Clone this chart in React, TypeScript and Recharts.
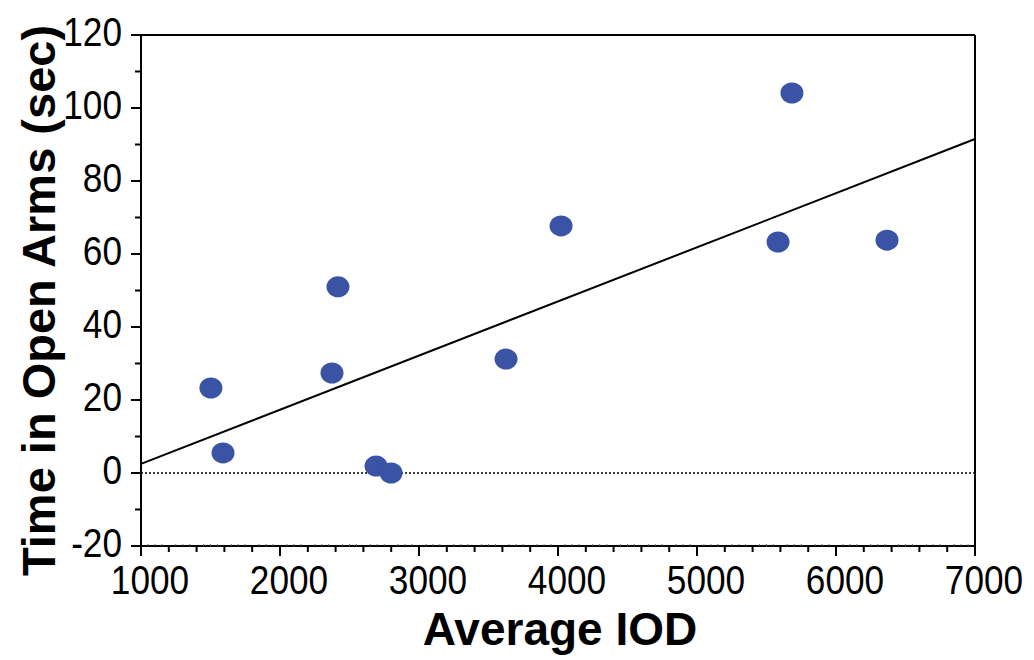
import { ScatterChart, Scatter, XAxis, YAxis, ReferenceLine } from 'recharts';

// measured points
const iodValues = [1503, 1590, 2374, 2417, 2691, 2799, 3626, 4022, 5583, 5683, 6367];
const timeValues = [23.3, 5.5, 27.4, 51, 1.9, 0, 31.2, 67.7, 63.3, 104.1, 63.8];

// regression line end points
const fitX = [1000, 7000];
const fitY = [2.5, 91.5];

const xTickLabels = [1000, 2000, 3000, 4000, 5000, 6000, 7000];
const yTickLabels = [-20, 0, 20, 40, 60, 80, 100, 120];

const points = iodValues.map((x, i) => ({ x, y: timeValues[i] }));

const xMinor: number[] = [];
for (let v = 1000; v <= 7000; v += 50) xMinor.push(v);
const yMinor: number[] = [];
for (let v = -20; v <= 120; v += 10) yMinor.push(v);

const FONT = '"Liberation Sans", Arial, sans-serif';
const DOT = '#3a53a4';

function xLen(v: number) {
  if (v % 1000 === 0) return 10;
  if (v % 200 === 0) return 6;
  return 0;
}

// tick numbers in the original are a condensed sans, so squeeze Liberation Sans a bit
const NumText = ({ x, y, anchor, children }: any) => (
  <text
    transform={`translate(${x},${y}) scale(0.88,1)`}
    textAnchor={anchor}
    dominantBaseline="central"
    fontSize={40}
    fontFamily={FONT}
    fill="#000"
  >
    {children}
  </text>
);

const BottomTick = (p: any) => {
  const { x, y, payload } = p;
  const v = payload.value;
  const len = xLen(v);
  return (
    <g>
      {len ? (
        <line x1={x} x2={x} y1={y} y2={y + len} stroke="#000" strokeWidth={2} />
      ) : (
        <line x1={x} x2={x} y1={y} y2={y - 2} stroke="#666" strokeWidth={1} />
      )}
      {xTickLabels.includes(v) && (
        <NumText x={x + 9} y={y + 34} anchor="middle">
          {v}
        </NumText>
      )}
    </g>
  );
};

const TopTick = (p: any) => {
  const { x, y, payload } = p;
  const len = xLen(payload.value);
  return len ? (
    <line x1={x} x2={x} y1={y} y2={y - len} stroke="#000" strokeWidth={2} />
  ) : (
    <line x1={x} x2={x} y1={y} y2={y + 2} stroke="#666" strokeWidth={1} />
  );
};

const LeftTick = (p: any) => {
  const { x, y, payload } = p;
  const v = payload.value;
  const major = yTickLabels.includes(v);
  return (
    <g>
      <line x1={x} x2={x - (major ? 10 : 6)} y1={y} y2={y} stroke="#000" strokeWidth={2} />
      {major && (
        <NumText x={x - 19} y={y - 3} anchor="end">
          {v}
        </NumText>
      )}
    </g>
  );
};

const RightTick = (p: any) => {
  const { x, y, payload } = p;
  const major = yTickLabels.includes(payload.value);
  return <line x1={x} x2={x + (major ? 10 : 6)} y1={y} y2={y} stroke="#000" strokeWidth={2} />;
};

const Dot = (p: any) => <ellipse cx={p.cx} cy={p.cy} rx={11.5} ry={10.5} fill={DOT} />;

export default function App() {
  return (
    <div style={{ position: 'absolute', left: 0, top: 0, background: '#fff' }}>
      <ScatterChart width={1034} height={660} margin={{ top: 20, right: 39, bottom: 0, left: 0 }}>
        <XAxis
          xAxisId="t"
          orientation="top"
          type="number"
          dataKey="x"
          domain={[1000, 7000]}
          ticks={xMinor}
          interval={0}
          height={15}
          tickSize={0}
          tickMargin={0}
          tickLine={false}
          tick={<TopTick />}
          axisLine={{ stroke: '#000', strokeWidth: 2 }}
        />
        <XAxis
          xAxisId="b"
          orientation="bottom"
          type="number"
          dataKey="x"
          domain={[1000, 7000]}
          ticks={xMinor}
          interval={0}
          height={114}
          tickSize={0}
          tickMargin={0}
          tickLine={false}
          tick={<BottomTick />}
          axisLine={{ stroke: '#000', strokeWidth: 2 }}
          label={{
            content: (props: any) => {
              const vb = props.viewBox;
              return (
                <text x={vb.x + vb.width / 2 + 2} y={vb.y + 99} textAnchor="middle" fontSize={46} fontWeight="bold" fontFamily={FONT} fill="#000">
                  Average IOD
                </text>
              );
            },
          }}
        />
        <YAxis
          yAxisId="l"
          orientation="left"
          type="number"
          dataKey="y"
          domain={[-20, 120]}
          ticks={yMinor}
          interval={0}
          width={141}
          tickSize={0}
          tickMargin={0}
          tickLine={false}
          tick={<LeftTick />}
          axisLine={{ stroke: '#000', strokeWidth: 2 }}
          label={{
            content: (props: any) => {
              const vb = props.viewBox;
              const cx = vb.x + 38;
              const cy = vb.y + vb.height / 2 + 10;
              return (
                <text
                  x={cx}
                  y={cy}
                  transform={`rotate(-90 ${cx} ${cy})`}
                  textAnchor="middle"
                  dominantBaseline="central"
                  fontSize={47}
                  fontWeight="bold"
                  fontFamily={FONT}
                  fill="#000"
                >
                  Time in Open Arms (sec)
                </text>
              );
            },
          }}
        />
        <YAxis
          yAxisId="r"
          orientation="right"
          type="number"
          dataKey="y"
          domain={[-20, 120]}
          ticks={yMinor}
          interval={0}
          width={20}
          tickSize={0}
          tickMargin={0}
          tickLine={false}
          tick={<RightTick />}
          axisLine={{ stroke: '#000', strokeWidth: 2 }}
        />
        <ReferenceLine xAxisId="b" yAxisId="l" y={0} stroke="#000" strokeWidth={1.5} strokeDasharray="2 2" />
        <ReferenceLine
          xAxisId="b"
          yAxisId="l"
          segment={[
            { x: fitX[0], y: fitY[0] },
            { x: fitX[1], y: fitY[1] },
          ]}
          stroke="#000"
          strokeWidth={2}
        />
        <Scatter xAxisId="b" yAxisId="l" data={points} shape={<Dot />} isAnimationActive={false} />
      </ScatterChart>
    </div>
  );
}
